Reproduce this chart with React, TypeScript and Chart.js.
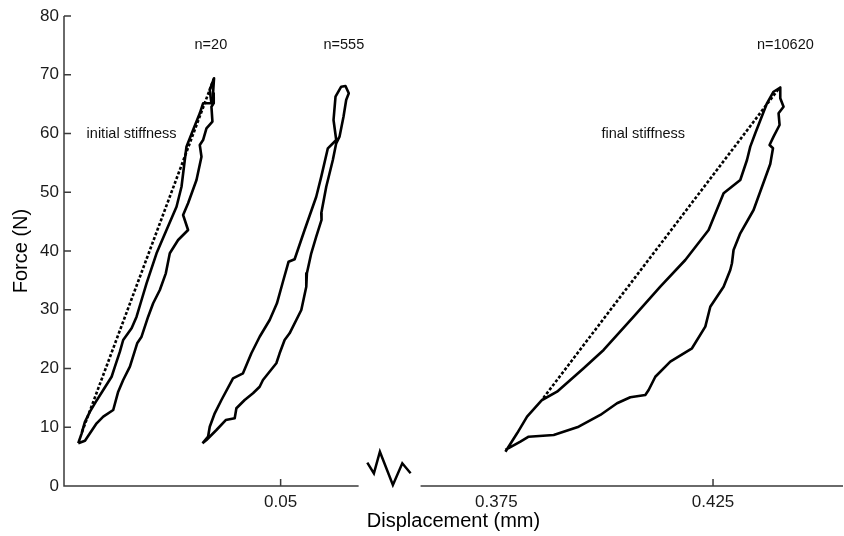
import React, { useEffect, useRef } from 'react';
import { Chart, registerables, LinearScale } from 'chart.js';

Chart.register(...registerables);

// ---------- data (displacement in mm, force in N) ----------
const N20_X = [0.00329, 0.00408, 0.00484, 0.00599, 0.00737, 0.00906, 0.01099, 0.01175, 0.0129, 0.01366, 0.0156, 0.01675, 0.0179, 0.01905, 0.02136, 0.02366, 0.02597, 0.02712, 0.02788, 0.02827, 0.02979, 0.03134, 0.0321, 0.03403, 0.03364, 0.03463,
  0.0344, 0.03456, 0.03403, 0.03426, 0.03288, 0.0321, 0.03134, 0.03173, 0.03058, 0.02864, 0.02749, 0.02864, 0.02634, 0.02442, 0.0235, 0.02212, 0.02058, 0.01942, 0.0179, 0.01689, 0.01521, 0.01366, 0.01251, 0.01136, 0.00906, 0.00753, 0.00599, 0.00484, 0.00329];
const N20_Y = [7.27, 8.97, 10.94, 12.65, 14.35, 16.34, 18.6, 20.31, 22.86, 24.85, 26.84, 28.82, 31.66, 34.5, 39.61, 43.57, 47.54, 50.94, 55.49, 57.76, 60.6, 63.44, 65.14, 65.14, 67.4, 69.4,
  66.84, 65.14, 64.56, 62.01, 60.88, 58.89, 58.04, 56.05, 52.09, 48.12, 46.13, 43.57, 41.87, 39.61, 36.2, 33.36, 31.1, 28.82, 25.41, 24.29, 20.31, 18.04, 16.05, 12.94, 11.8, 10.67, 8.97, 7.71, 7.27];

const N555_X = [0.03196, 0.03325, 0.03364, 0.03479, 0.03634, 0.03901, 0.04131, 0.04325, 0.04516, 0.04747, 0.04915, 0.05053, 0.05184, 0.05323, 0.05553, 0.05822, 0.05938, 0.0609, 0.06283, 0.06221, 0.06267, 0.06398, 0.06497,
  0.06573, 0.06513, 0.06451, 0.06359, 0.06283, 0.06205, 0.06053, 0.05938, 0.05944, 0.05822, 0.05707, 0.05606, 0.05592, 0.05477, 0.05207, 0.05092, 0.04977, 0.04901, 0.04592, 0.04516, 0.04362, 0.0417, 0.03979, 0.0394, 0.03733, 0.03518, 0.03288, 0.03196];
const N555_Y = [7.27, 8.39, 10.09, 12.37, 14.64, 18.33, 19.18, 22.59, 25.41, 28.26, 31.1, 34.77, 38.18, 38.59, 43.57, 49.24, 52.65, 57.48, 58.89, 62.3, 66.27, 67.97, 68.09,
  66.84, 65.7, 62.86, 59.46, 58.33, 55.49, 50.94, 46.42, 45.28, 42.43, 39.61, 36.2, 33.92, 29.96, 25.99, 24.85, 22.59, 20.89, 18.04, 16.9, 15.78, 14.64, 13.23, 11.52, 11.23, 9.53, 7.83, 7.27];

const N10620_X = [0.37708, 0.37978, 0.38208, 0.38554, 0.389, 0.39514, 0.39975, 0.40668, 0.41283, 0.4186, 0.42398, 0.42744, 0.43129, 0.43284, 0.4336, 0.43475, 0.43745, 0.43897, 0.44052,
  0.44052, 0.44128, 0.44013, 0.44036, 0.43897, 0.43805, 0.43884, 0.43821, 0.43436, 0.43129, 0.42974, 0.42937, 0.42898, 0.42744, 0.42437, 0.42322, 0.42015, 0.41514, 0.41168, 0.41014, 0.40937, 0.40591, 0.40285, 0.39899, 0.39399, 0.38822, 0.38245, 0.38054, 0.37708];
const N10620_Y = [5.84, 8.97, 11.8, 14.64, 16.05, 20.03, 23.15, 28.82, 33.92, 38.47, 43.57, 49.82, 52.09, 55.49, 57.76, 60.03, 65.14, 67.11, 67.83,
  65.99, 64.56, 63.44, 61.45, 59.46, 58.04, 57.48, 54.8, 46.98, 43.01, 40.17, 37.91, 36.77, 33.92, 30.52, 27.12, 23.44, 21.16, 18.6, 16.34, 15.49, 15.1, 14.08, 12.09, 10.09, 8.68, 8.39, 7.54, 6.13];

const INITIAL_STIFF_X = [0.00415, 0.03456];
const INITIAL_STIFF_Y = [9.19, 69.28];
const FINAL_STIFF_X = [0.38584, 0.44029];
const FINAL_STIFF_Y = [14.98, 67.74];

const X_TICKS = [0.05, 0.375, 0.425];
const X_TICK_MARKS = [0.05, 0.425];
const Y_TICKS = [0, 10, 20, 30, 40, 50, 60, 70, 80];

const LABEL_TEXT = ['n=20', 'n=555', 'n=10620', 'initial stiffness', 'final stiffness'];
const LABEL_X = [0.0339, 0.0646, 0.4417, 0.0156, 0.4089];
const LABEL_Y = [75, 75, 75, 60, 60];

// ---------- broken x-axis configuration ----------
const LEFT_MAX = 0.068;
const RIGHT_MIN = 0.3575;
const RIGHT_MAX = 0.455;
const GAP = 0.0143;
const TOTAL = LEFT_MAX + GAP + (RIGHT_MAX - RIGHT_MIN);

function compress(v: number): number {
  if (v <= LEFT_MAX) return v;
  if (v >= RIGHT_MIN) return LEFT_MAX + GAP + (v - RIGHT_MIN);
  return LEFT_MAX + (GAP * (v - LEFT_MAX)) / (RIGHT_MIN - LEFT_MAX);
}
function expand(c: number): number {
  if (c <= LEFT_MAX) return c;
  if (c >= LEFT_MAX + GAP) return c - LEFT_MAX - GAP + RIGHT_MIN;
  return LEFT_MAX + ((c - LEFT_MAX) * (RIGHT_MIN - LEFT_MAX)) / GAP;
}

class BrokenLinearScale extends (LinearScale as any) {
  static id = 'brokenLinear';
  getPixelForValue(value: any) {
    if (value === null || value === undefined || isNaN(value)) return NaN;
    return (this as any).getPixelForDecimal(compress(value) / TOTAL);
  }
  getValueForPixel(pixel: number) {
    return expand((this as any).getDecimalForPixel(pixel) * TOTAL);
  }
}
Chart.register(BrokenLinearScale as any);

const FONT = '"Liberation Sans", Arial, Helvetica, sans-serif';
const AXIS_COLOR = '#3a3a3a';
const BREAK_SHAPE: [number, number][] = [[-22.3, -23.3], [-15.7, -12.7], [-9.7, -34.3], [3.3, -1], [12.7, -22.7], [21, -12.7]];

const zip = (xs: number[], ys: number[]) => xs.map((x, i) => ({ x, y: ys[i] }));

const decorPlugin = {
  id: 'decor',
  afterDraw(chart: any) {
    const { ctx, chartArea } = chart;
    const x = chart.scales.x;
    const y = chart.scales.y;
    const base = y.getPixelForValue(0);
    ctx.save();
    ctx.strokeStyle = AXIS_COLOR;
    ctx.lineWidth = 1.5;
    ctx.beginPath();
    ctx.moveTo(chartArea.left, y.getPixelForValue(80));
    ctx.lineTo(chartArea.left, base + 0.75);
    Y_TICKS.forEach((t) => {
      const py = y.getPixelForValue(t);
      ctx.moveTo(chartArea.left, py);
      ctx.lineTo(chartArea.left + 7, py);
    });
    ctx.moveTo(x.getPixelForValue(0), base);
    ctx.lineTo(x.getPixelForValue(LEFT_MAX), base);
    ctx.moveTo(x.getPixelForValue(RIGHT_MIN), base);
    ctx.lineTo(x.getPixelForValue(RIGHT_MAX), base);
    X_TICK_MARKS.forEach((t) => {
      const px = x.getPixelForValue(t);
      ctx.moveTo(px, base);
      ctx.lineTo(px, base - 7);
    });
    ctx.stroke();

    // axis break symbol
    const cx = (x.getPixelForValue(LEFT_MAX) + x.getPixelForValue(RIGHT_MIN)) / 2;
    ctx.strokeStyle = '#000';
    ctx.lineWidth = 2.5;
    ctx.lineJoin = 'miter';
    ctx.beginPath();
    BREAK_SHAPE.forEach(([dx, dy], i) => {
      if (i === 0) ctx.moveTo(cx + dx, base + dy);
      else ctx.lineTo(cx + dx, base + dy);
    });
    ctx.stroke();

    // annotations
    ctx.fillStyle = '#111';
    ctx.font = `14.5px ${FONT}`;
    ctx.textAlign = 'center';
    ctx.textBaseline = 'middle';
    LABEL_TEXT.forEach((t, i) => {
      ctx.fillText(t, x.getPixelForValue(LABEL_X[i]), y.getPixelForValue(LABEL_Y[i]));
    });
    ctx.restore();
  },
};

export default function App() {
  const ref = useRef<HTMLCanvasElement>(null);

  useEffect(() => {
    if (!ref.current) return;
    const loop = (xs: number[], ys: number[]) => ({
      data: zip(xs, ys),
      showLine: true,
      borderColor: '#000',
      borderWidth: 2.6,
      pointRadius: 0,
      tension: 0,
      fill: false,
      borderJoinStyle: 'round' as const,
      order: 1,
    });
    const dashed = (xs: number[], ys: number[]) => ({
      data: zip(xs, ys),
      showLine: true,
      borderColor: '#000',
      borderWidth: 2.6,
      borderDash: [3, 2],
      pointRadius: 0,
      tension: 0,
      fill: false,
      order: 2,
    });
    const chart = new Chart(ref.current, {
      type: 'scatter',
      data: {
        datasets: [
          dashed(INITIAL_STIFF_X, INITIAL_STIFF_Y),
          dashed(FINAL_STIFF_X, FINAL_STIFF_Y),
          loop(N20_X, N20_Y),
          loop(N555_X, N555_Y),
          loop(N10620_X, N10620_Y),
        ],
      },
      options: {
        responsive: false,
        animation: false,
        events: [],
        layout: { padding: { top: 16, right: 1, bottom: 0, left: 0 } },
        plugins: { legend: { display: false }, tooltip: { enabled: false } },
        scales: {
          x: {
            type: 'brokenLinear' as any,
            min: 0,
            max: RIGHT_MAX,
            grid: { display: false, drawTicks: false },
            border: { display: false },
            afterBuildTicks: (s: any) => {
              s.ticks = X_TICKS.map((v) => ({ value: v }));
            },
            afterFit: (s: any) => {
              s.height = 50;
            },
            ticks: {
              autoSkip: false,
              maxRotation: 0,
              padding: 6,
              color: '#1a1a1a',
              font: { family: FONT, size: 17 },
              callback: (v: any) => String(v),
            },
            title: {
              display: true,
              text: 'Displacement (mm)',
              color: '#000',
              font: { family: FONT, size: 20 },
              padding: { top: 0, bottom: 3 },
            },
          } as any,
          y: {
            min: 0,
            max: 80,
            grid: { display: false, drawTicks: false },
            border: { display: false },
            afterFit: (s: any) => {
              s.width = 64;
            },
            ticks: {
              stepSize: 10,
              padding: 5,
              color: '#1a1a1a',
              font: { family: FONT, size: 17 },
            },
            title: {
              display: true,
              text: 'Force (N)',
              color: '#000',
              font: { family: FONT, size: 20 },
              padding: { top: 9, bottom: 0 },
            },
          },
        },
      },
      plugins: [decorPlugin],
    });
    return () => chart.destroy();
  }, []);

  return (
    <div style={{ position: 'absolute', left: 0, top: 0, width: 844, height: 536, background: '#fff' }}>
      <canvas ref={ref} width={844} height={536} style={{ display: 'block' }} />
    </div>
  );
}
